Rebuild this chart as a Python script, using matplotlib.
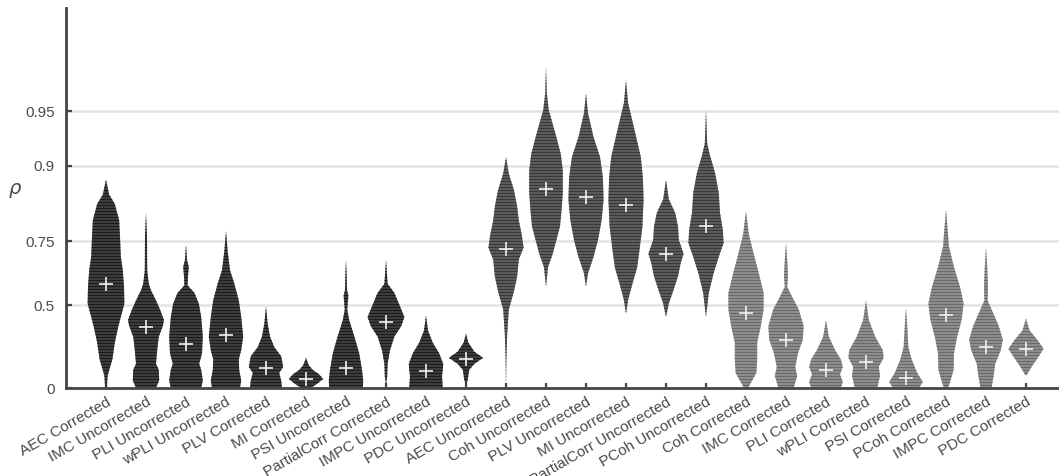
import matplotlib
matplotlib.use('Agg')
import matplotlib.pyplot as plt
import matplotlib.transforms as mtransforms
import numpy as np

plt.rcParams['font.family'] = ['Liberation Sans', 'DejaVu Sans']

labels = ['AEC Corrected', 'IMC Uncorrected', 'PLI Uncorrected', 'wPLI Uncorrected',
          'PLV Corrected', 'MI Corrected', 'PSI Uncorrected', 'PartialCorr Corrected',
          'IMPC Uncorrected', 'PDC Uncorrected', 'AEC Uncorrected', 'Coh Uncorrected',
          'PLV Uncorrected', 'MI Uncorrected', 'PartialCorr Uncorrected', 'PCoh Uncorrected',
          'Coh Corrected', 'IMC Corrected', 'PLI Corrected', 'wPLI Corrected',
          'PSI Corrected', 'PCoh Corrected', 'IMPC Corrected', 'PDC Corrected']
group = [0] * 10 + [1] * 6 + [2] * 8

# Fisher z of the correlation, with kernel density (half width) at each level
violin_z = [
    [0, .08, .19, .30, .41, .49, .56, .67, .78, .87, 1.00, 1.11, 1.22, 1.28, 1.38],
    [0, .05, .12, .16, .25, .34, .41, .45, .52, .58, .65, .69, .78, 1.00, 1.16],
    [0, .05, .12, .16, .23, .34, .47, .56, .63, .68, .74, .80, .85, .95],
    [0, .05, .12, .19, .25, .34, .47, .58, .69, .78, .91, 1.04],
    [0, .05, .10, .14, .21, .27, .34, .43, .54],
    [0, .03, .06, .09, .12, .15, .20],
    [0, .05, .12, .23, .34, .45, .52, .61, .65, .74, .85],
    [.02, .08, .16, .25, .34, .41, .47, .56, .63, .69, .85],
    [0, .08, .12, .16, .23, .30, .38, .48],
    [.02, .05, .12, .16, .20, .24, .30, .36],
    [0, .19, .36, .52, .63, .74, .85, .93, 1.02, 1.11, 1.20, 1.31, 1.42, 1.53],
    [.67, .80, .89, .98, 1.07, 1.18, 1.29, 1.44, 1.55, 1.69, 1.84, 1.95, 2.13],
    [.67, .76, .87, .98, 1.11, 1.25, 1.40, 1.53, 1.66, 1.82, 1.95],
    [.49, .58, .67, .80, .94, 1.07, 1.25, 1.40, 1.53, 1.69, 1.89, 2.04],
    [.47, .56, .65, .74, .83, .89, .98, 1.07, 1.16, 1.25, 1.38],
    [.47, .63, .76, .87, .96, 1.05, 1.16, 1.29, 1.42, 1.55, 1.62, 1.84],
    [0, .10, .19, .30, .41, .52, .63, .76, .89, 1.02, 1.17],
    [0, .08, .14, .23, .32, .41, .52, .61, .67, .74, .85, .96],
    [0, .04, .09, .14, .19, .25, .34, .45],
    [0, .08, .14, .20, .25, .34, .45, .58],
    [0, .04, .10, .19, .27, .41, .53],
    [0, .03, .12, .23, .34, .45, .56, .67, .80, .94, 1.02, 1.18],
    [0, .08, .16, .25, .32, .41, .49, .58, .67, .80, .93],
    [.08, .10, .14, .21, .26, .32, .38, .46],
]
density = [
    [.02, .04, .16, .22, .31, .39, .46, .45, .42, .37, .35, .33, .22, .08, 0],
    [.25, .33, .32, .25, .28, .32, .42, .45, .35, .25, .12, .07, .03, .025, 0],
    [.38, .42, .38, .33, .40, .42, .38, .32, .21, .04, .05, .07, .025, 0],
    [.35, .38, .33, .32, .38, .43, .38, .32, .21, .10, .04, 0],
    [.40, .38, .33, .43, .38, .21, .10, .04, 0],
    [.12, .29, .43, .33, .17, .07, 0],
    [.42, .43, .40, .33, .21, .08, .03, .06, .025, .017, 0],
    [0, .03, .04, .10, .21, .38, .46, .32, .21, .04, 0],
    [.42, .40, .42, .43, .33, .17, .05, 0],
    [0, .04, .08, .21, .43, .21, .06, 0],
    [0, .01, .03, .07, .19, .28, .32, .44, .39, .32, .28, .20, .07, 0],
    [0, .05, .17, .26, .35, .39, .42, .42, .37, .23, .07, .02, 0],
    [0, .05, .19, .30, .39, .44, .42, .35, .19, .05, 0],
    [0, .05, .14, .28, .35, .41, .44, .42, .37, .23, .05, 0],
    [0, .07, .19, .30, .37, .44, .32, .30, .23, .07, 0],
    [0, .07, .19, .32, .44, .42, .35, .32, .23, .09, .03, 0],
    [.05, .26, .28, .28, .37, .44, .44, .32, .19, .07, 0],
    [.19, .28, .23, .30, .42, .44, .32, .14, .03, .05, .03, 0],
    [.37, .42, .35, .42, .37, .23, .07, 0],
    [.28, .35, .32, .44, .42, .23, .07, 0],
    [.32, .42, .28, .14, .06, .03, 0],
    [.05, .09, .19, .20, .28, .39, .44, .35, .20, .07, .05, 0],
    [.14, .19, .23, .37, .42, .32, .19, .04, .05, .03, 0],
    [0, .05, .14, .32, .44, .28, .09, 0],
]
mean_z = [0.689, 0.406, 0.291, 0.351, 0.130, 0.057, 0.130, 0.435, 0.113, 0.194,
          0.921, 1.316, 1.263, 1.210, 0.887, 1.075, 0.494, 0.318, 0.119, 0.174,
          0.064, 0.483, 0.269, 0.258]
rho_ticks = [0, 0.5, 0.75, 0.9, 0.95]

face = ['#3e3e3e', '#5c5c5c', '#8e8e8e']
stripe = ['#1c1c1c', '#383838', '#6a6a6a']
axis_grey = '#454545'

fig = plt.figure(figsize=(10.59, 4.76), dpi=100)
ax = fig.add_axes([66 / 1059, 88 / 476, 993 / 1059, 380 / 476])
ymax = 380 / 151
step = 3 / 151  # one stripe every 3 px

for i, (zs, ws) in enumerate(zip(violin_z, density)):
    pos = i + 1
    zs = np.asarray(zs)
    ws = np.asarray(ws)
    g = group[i]
    body = ax.fill_betweenx(zs, pos - ws, pos + ws, facecolor=face[g],
                            linewidth=0, zorder=2)
    # horizontal stripe texture, clipped to the violin outline
    ys = np.arange(zs.min(), zs.max(), step)
    stripes = ax.hlines(ys, pos - 0.5, pos + 0.5, colors=stripe[g], lw=0.8, zorder=2.1)
    stripes.set_clip_path(body.get_paths()[0], body.get_transform())
    ax.plot(pos, mean_z[i], marker='+', ms=10, mew=1.2, color='#f2f2f2', zorder=3)

ytick_z = np.arctanh(rho_ticks)
ax.set_yticks(ytick_z)
ax.set_yticklabels([f'{r:g}' for r in rho_ticks])
for yz in ytick_z[1:]:
    ax.axhline(yz, color='#e4e4e4', lw=1.8, zorder=0)

ax.set_xticks(range(1, len(labels) + 1))
ax.set_xticklabels(labels, rotation=30, ha='right', va='top', rotation_mode='anchor')
shift = mtransforms.ScaledTranslation(4 / 100, 0, fig.dpi_scale_trans)
for lab in ax.get_xticklabels():
    lab.set_transform(lab.get_transform() + shift)

ax.set_xlim(0, 993 / 40)
ax.set_ylim(0, ymax)

ax.tick_params(axis='both', direction='in', color=axis_grey, labelcolor='#4a4a4a',
               labelsize=11, width=1.6)
ax.tick_params(axis='x', length=3.5, pad=5)
ax.tick_params(axis='y', length=4, pad=8)
for side in ['top', 'right']:
    ax.spines[side].set_visible(False)
for side in ['left', 'bottom']:
    ax.spines[side].set_color(axis_grey)
    ax.spines[side].set_linewidth(2)

fig.text(15 / 1059, 1 - 190 / 476, r'$\rho$', fontsize=14, color='#4a4a4a',
         ha='center', va='center')

fig.savefig('out.png', dpi=100)
